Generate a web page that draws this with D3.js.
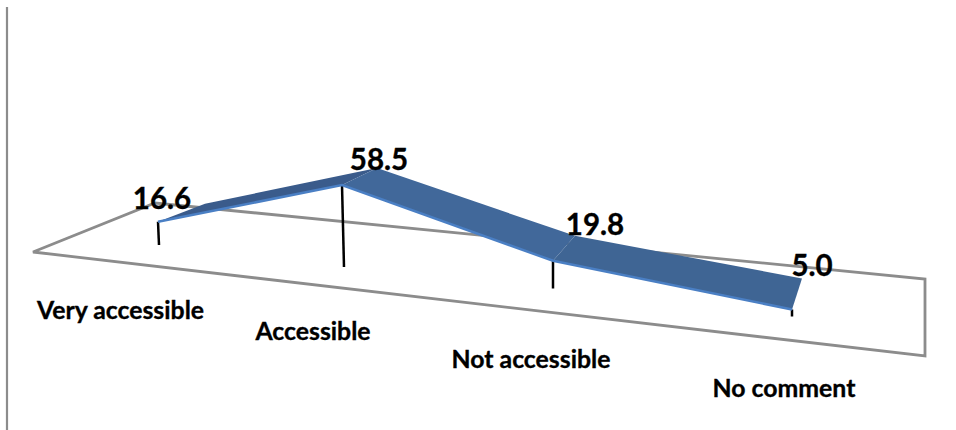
<!DOCTYPE html>
<html><head><meta charset="utf-8">
<script src="https://cdnjs.cloudflare.com/ajax/libs/d3/7.8.5/d3.min.js"></script>
<style>html,body{margin:0;padding:0;background:#fff}svg{display:block}text{font-family:Lato,"Open Sans",sans-serif;font-weight:700;fill:#000;stroke:#000;stroke-width:.35px}</style>
</head><body><div id="chart"></div>
<script>
const categories = ["Very accessible", "Accessible", "Not accessible", "No comment"];
const values = [16.6, 58.5, 19.8, 5.0];
const valueLabels = ["16.6", "58.5", "19.8", "5.0"];

const W = 956, H = 430;
const svg = d3.select("#chart").append("svg").attr("width", W).attr("height", H);
const idx = [0, 1, 2, 3];

// oblique projection of the chart's category axis, value axis and depth
const frontX = d3.scaleLinear().domain(idx).range([158, 342, 553, 792]);
const baseX  = d3.scaleLinear().domain(idx).range([159, 344, 553, 792]);
const baseY  = d3.scaleLinear().domain(idx).range([245, 267, 288.5, 316.5]);
const height = d3.scaleLinear().domain([0, 100]).range([0, 140]);
const depthX = d3.scaleLinear().domain(idx).range([47, 35, 22, 10]);
const depthY = d3.scaleLinear().domain(idx).range([-18, -17, -25, -31]);
const labelX = d3.scaleLinear().domain(idx).range([120.5, 313, 531, 784]);
const labelY = d3.scaleLinear().domain(idx).range([319, 340, 368, 397]);
const valX   = d3.scaleLinear().domain(idx).range([162, 379, 595, 812]);
const valY   = d3.scaleLinear().domain(idx).range([209, 170, 235, 276]);

const fx = i => frontX(i), fy = i => baseY(i) - height(values[i]);
const bx = i => fx(i) + depthX(i), by = i => fy(i) + depthY(i);
const line = d3.line();

// left axis
svg.append("path").attr("d", line([[7, 7], [7, 430]]))
  .attr("stroke", "#8c8c8c").attr("stroke-width", 2.2).attr("fill", "none");

// floor
const floor = [[33, 252], [155, 203], [925, 279], [925, 356]];
svg.append("path").attr("d", line(floor) + "Z")
  .attr("fill", "none").attr("stroke", "#8c8c8c").attr("stroke-width", 2.8).attr("stroke-linejoin", "miter");

// drop lines
svg.selectAll("path.stem").data(idx).join("path").attr("class", "stem")
  .attr("d", i => line([[fx(i), fy(i)], [baseX(i), baseY(i)]]))
  .attr("stroke", "#000").attr("stroke-width", 2.5).attr("fill", "none");

// ribbon
const segColors = ["#3a5b8b", "#41689a", "#3f6594"];
svg.selectAll("path.seg").data(idx.slice(0, 3)).join("path").attr("class", "seg")
  .attr("d", i => line([[fx(i), fy(i)], [bx(i), by(i)], [bx(i + 1), by(i + 1)], [fx(i + 1), fy(i + 1)]]) + "Z")
  .attr("fill", i => segColors[i]);
svg.append("path")
  .attr("d", line(idx.map(i => [fx(i), fy(i)])))
  .attr("fill", "none").attr("stroke", "#4a7fc4").attr("stroke-width", 2.5);

// texts
svg.selectAll("text.cat").data(categories).join("text").attr("class", "cat")
  .attr("x", (d, i) => labelX(i)).attr("y", (d, i) => labelY(i))
  .attr("text-anchor", "middle").attr("font-size", 24.8).text(d => d);
svg.selectAll("text.val").data(valueLabels).join("text").attr("class", "val")
  .attr("x", (d, i) => valX(i)).attr("y", (d, i) => valY(i))
  .attr("text-anchor", "middle").attr("font-size", 29.5).text(d => d);
</script></body></html>
